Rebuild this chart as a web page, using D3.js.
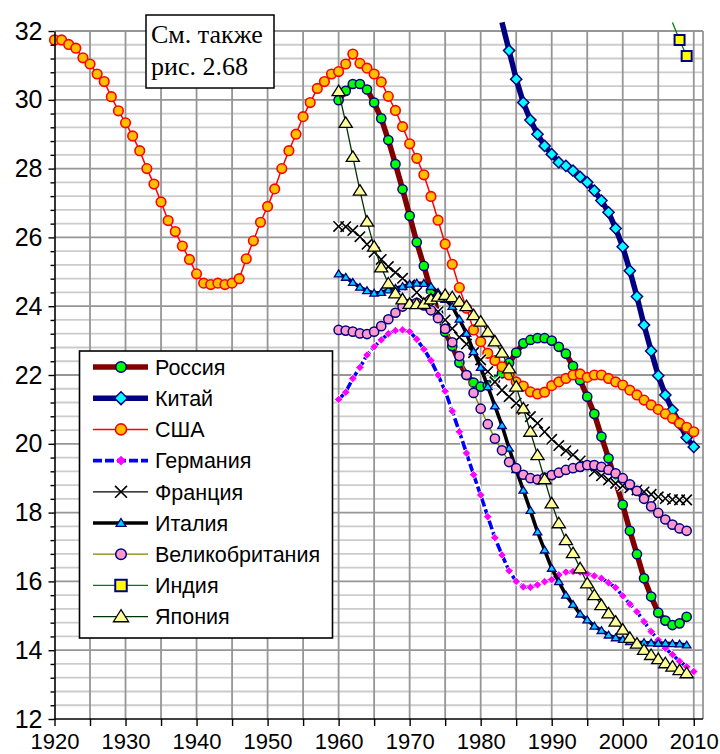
<!DOCTYPE html>
<html>
<head>
<meta charset="utf-8">
<script src="https://cdn.jsdelivr.net/npm/d3@7"></script>
<style>
body{margin:0;background:#fff}
svg{display:block}
</style>
</head>
<body>
<div id="chart"></div>
<script>
// share of population, by country and year
var names = ["Россия","Китай","США","Германия","Франция","Италия","Великобритания","Индия","Япония"]
var startYears = [1960,1983,1920,1960,1960,1960,1960,2007,1960]

var russia = [29.99,30.26,30.46,30.46,30.3,29.92,29.46,28.83,28.13,27.4,
  26.63,25.86,25.17,24.45,23.8,23.25,22.84,22.36,22.0,21.78,
  21.66,21.7,21.85,22.05,22.35,22.65,22.92,23.02,23.07,23.07,
  23.0,22.82,22.62,22.26,21.85,21.37,20.87,20.21,19.58,18.9,
  18.23,17.47,16.79,16.09,15.56,15.09,14.86,14.73,14.78,14.97]
var china = [32.25,31.43,30.6,29.92,29.41,29.0,28.66,28.42,28.18,28.08,27.94,27.76,27.6,27.36,
  27.07,26.73,26.26,25.73,25.03,24.28,23.45,22.7,21.98,21.42,20.98,20.58,20.18,19.91]
var usa = [31.74,31.74,31.61,31.5,31.22,31.04,30.75,30.53,30.09,29.68,
  29.33,28.95,28.52,28.0,27.55,27.03,26.49,26.17,25.75,25.36,
  24.94,24.67,24.63,24.67,24.63,24.67,24.8,25.38,25.9,26.44,
  26.9,27.41,28.0,28.52,29.0,29.51,29.92,30.33,30.53,30.75,
  30.82,31.04,31.33,31.06,30.92,30.75,30.52,30.1,29.69,29.22,
  28.72,28.3,27.82,27.19,26.5,25.81,25.22,24.54,23.94,23.31,
  22.97,22.63,22.42,22.24,22.0,21.8,21.68,21.51,21.45,21.5,
  21.69,21.8,21.9,22.0,22.03,21.93,22.0,22.0,21.9,21.8,
  21.71,21.56,21.42,21.27,21.13,21.0,20.87,20.74,20.6,20.48,
  20.35]
var germany = [21.29,21.5,21.9,22.22,22.58,22.82,23.02,23.2,23.29,23.31,
  23.26,23.04,22.75,22.42,22.0,21.53,20.95,20.35,19.73,19.1,
  18.51,17.88,17.27,16.77,16.31,16.0,15.84,15.83,15.9,15.99,
  16.05,16.19,16.27,16.29,16.27,16.22,16.16,16.09,15.96,15.82,
  15.58,15.34,15.12,14.83,14.54,14.3,14.06,13.87,13.68,13.52,
  13.38]
var france = [26.32,26.31,26.2,26.02,25.8,25.57,25.36,25.15,24.98,24.81,
  24.62,24.4,24.18,24.0,23.84,23.6,23.35,23.1,22.9,22.65,
  22.44,22.1,21.8,21.56,21.37,21.18,21.0,20.79,20.6,20.35,
  20.13,19.95,19.8,19.68,19.5,19.35,19.2,19.07,18.95,18.85,
  18.78,18.72,18.66,18.6,18.53,18.46,18.41,18.38,18.37,18.37]
var italy = [24.94,24.84,24.69,24.55,24.45,24.38,24.4,24.47,24.52,24.57,
  24.64,24.67,24.66,24.57,24.4,24.2,23.99,23.62,23.21,22.68,
  22.22,21.66,21.1,20.53,19.87,19.25,18.65,18.06,17.44,16.91,
  16.38,15.99,15.6,15.33,15.05,14.88,14.7,14.57,14.44,14.36,
  14.31,14.25,14.22,14.22,14.21,14.2,14.2,14.19,14.18,14.15]
var uk = [23.31,23.29,23.26,23.21,23.19,23.26,23.42,23.62,23.81,23.99,
  24.07,24.1,24.02,23.88,23.65,23.34,22.95,22.55,22.0,21.48,
  21.02,20.57,20.15,19.81,19.47,19.29,19.1,19.0,18.96,19.02,
  19.09,19.16,19.24,19.29,19.33,19.38,19.38,19.33,19.24,19.14,
  19.0,18.82,18.63,18.4,18.18,17.99,17.8,17.65,17.54,17.47]
var india = [32.25,31.74,31.27]
var japan = [30.25,29.33,28.34,27.36,26.46,25.73,25.13,24.66,24.37,24.2,
  24.07,24.06,24.07,24.2,24.28,24.33,24.26,24.13,24.0,23.74,
  23.55,23.25,22.98,22.65,22.19,21.66,21.03,20.35,19.67,18.97,
  18.27,17.69,17.2,16.82,16.38,15.94,15.6,15.31,15.07,14.83,
  14.6,14.36,14.19,14.01,13.86,13.74,13.62,13.52,13.42,13.33]

var xTicks = [1920,1930,1940,1950,1960,1970,1980,1990,2000,2010]
var yTicks = [12,14,16,18,20,22,24,26,28,30,32]

var svg = d3.select("#chart").append("svg").attr("width",720).attr("height",754)
  .style("font-family","'Liberation Sans', Arial, sans-serif")

var x = d3.scaleLinear().domain([1920,2011.3]).range([54.5,703])
var y = d3.scaleLinear().domain([12,32]).range([719,31])

// grid
var minor = d3.range(0,51).map(function(i){return 12+i*0.4}).filter(function(v,i){return i%5!=0})
svg.append("g").selectAll("line").data(minor).enter().append("line")
  .attr("x1",x(1920)).attr("x2",703).attr("y1",function(d){return y(d)}).attr("y2",function(d){return y(d)})
  .attr("stroke","#cccccc").attr("stroke-width",1.8)
svg.append("g").selectAll("line").data(d3.range(1925,2011,5)).enter().append("line")
  .attr("x1",function(d){return x(d)}).attr("x2",function(d){return x(d)}).attr("y1",y(32)).attr("y2",y(12))
  .attr("stroke","#969696").attr("stroke-width",1.8)
svg.append("g").selectAll("line").data(yTicks.slice(1)).enter().append("line")
  .attr("x1",x(1920)).attr("x2",703).attr("y1",function(d){return y(d)}).attr("y2",function(d){return y(d)})
  .attr("stroke","#969696").attr("stroke-width",1.8)
svg.append("line").attr("x1",703).attr("x2",703).attr("y1",y(32)).attr("y2",y(12))
  .attr("stroke","#969696").attr("stroke-width",1.8)

function markerPath(type,s){
  if(type=="circle") return "M"+(-s)+",0A"+s+","+s+" 0 1,0 "+s+",0A"+s+","+s+" 0 1,0 "+(-s)+",0Z"
  if(type=="diamond") return "M0,"+(-s)+"L"+s+",0L0,"+s+"L"+(-s)+",0Z"
  if(type=="square") return "M"+(-s)+","+(-s)+"H"+s+"V"+s+"H"+(-s)+"Z"
  if(type=="triangle") return "M0,"+(-s)+"L"+(s*1.1)+","+(s*0.75)+"L"+(-s*1.1)+","+(s*0.75)+"Z"
  if(type=="x") return "M"+(-s)+","+(-s)+"L"+s+","+s+"M"+s+","+(-s)+"L"+(-s)+","+s
}

var series = [
  {values:russia, line:"#800000", lw:5.5, marker:"circle", ms:4.6, fill:"#00ff00", stroke:"#000080", sw:1.5},
  {values:china, line:"#000080", lw:5.5, marker:"diamond", ms:5.6, fill:"#00ffff", stroke:"#000080", sw:1.5},
  {values:usa, line:"#ff0000", lw:1.5, marker:"circle", ms:4.8, fill:"#ffc000", stroke:"#ff0000", sw:1.6},
  {values:germany, line:"#0000ff", lw:3.6, dash:"9,3", halo:true, marker:"diamond", ms:4.2, fill:"#ff00ff", stroke:"#fff", sw:0.8},
  {values:france, line:"#000000", lw:1.3, marker:"x", ms:5.2, fill:"none", stroke:"#000", sw:1.6, xhalo:true},
  {values:italy, line:"#000000", lw:3.6, marker:"triangle", ms:3.9, fill:"#00ccff", stroke:"#000080", sw:1.3},
  {values:uk, line:"#808000", lw:1.3, marker:"circle", ms:4.6, fill:"#ff99cc", stroke:"#000080", sw:1.5},
  {values:india, line:"#008000", lw:1.3, marker:"square", ms:5, fill:"#ffff00", stroke:"#000080", sw:2},
  {values:japan, line:"#003300", lw:1.3, marker:"triangle", ms:6, fill:"#ffff99", stroke:"#000000", sw:1.3}
]

series.forEach(function(s,k){
  var start = startYears[k]
  var pts = s.values.map(function(v,i){return {year:start+i, v:v}})
  var line = d3.line().x(function(d){return x(d.year)}).y(function(d){return y(d.v)})
  var g = svg.append("g")
  if(s.halo){
    g.append("path").attr("d",line(pts)).attr("fill","none").attr("stroke","#fff").attr("stroke-width",s.lw+2.5)
  }
  g.append("path").attr("d",line(pts)).attr("fill","none").attr("stroke",s.line)
    .attr("stroke-width",s.lw).attr("stroke-dasharray",s.dash||null).attr("stroke-linejoin","round")
  var shown = pts.filter(function(d){return d.v<=32})
  if(s.xhalo){
    g.selectAll(".h").data(shown).enter().append("path").attr("class","h")
      .attr("d",markerPath(s.marker,s.ms)).attr("transform",function(d){return "translate("+x(d.year)+","+y(d.v)+")"})
      .attr("fill","none").attr("stroke","#fff").attr("stroke-width",3.8)
  }
  g.selectAll(".m").data(shown).enter().append("path").attr("class","m")
    .attr("d",markerPath(s.marker,s.ms)).attr("transform",function(d){return "translate("+x(d.year)+","+y(d.v)+")"})
    .attr("fill",s.fill).attr("stroke",s.stroke).attr("stroke-width",s.sw)
})

// axes
var yAxis = svg.append("g").attr("transform","translate("+x(1920)+",0)")
  .call(d3.axisLeft(y).tickValues(yTicks).tickSize(6).tickSizeOuter(0).tickPadding(6))
svg.append("g").attr("transform","translate("+x(1920)+",0)")
  .call(d3.axisLeft(y).tickValues(minor).tickSize(4).tickSizeOuter(0).tickFormat(""))
  .call(function(g){g.select(".domain").remove()})
var xAxis = svg.append("g").attr("transform","translate(0,"+y(12)+")")
  .call(d3.axisBottom(x).tickValues(d3.range(1920,2011,5)).tickSize(7).tickSizeOuter(0).tickPadding(7)
    .tickFormat(function(d){return d%10==0 ? d : ""}))
xAxis.select(".domain").attr("d","M"+x(1920)+",0H703")
svg.selectAll(".domain").attr("stroke","#000").attr("stroke-width",1.6)
svg.selectAll(".tick line").attr("stroke","#000").attr("stroke-width",1.4)
yAxis.selectAll("text").attr("font-size",25).attr("font-family","'Liberation Sans', Arial").attr("fill","#000")
xAxis.selectAll("text").attr("font-size",22).attr("font-family","'Liberation Sans', Arial").attr("fill","#000")

// note box
svg.append("rect").attr("x",146).attr("y",15).attr("width",128).attr("height",73)
  .attr("fill","#fff").attr("stroke","#000").attr("stroke-width",1.5)
var note = svg.append("text").attr("font-family","'Liberation Serif', 'Times New Roman', serif").attr("font-size",26)
note.append("tspan").attr("x",151).attr("y",43).text("См. также")
note.append("tspan").attr("x",151).attr("y",75).text("рис. 2.68")

// legend
var lg = svg.append("g")
lg.append("rect").attr("x",79.5).attr("y",351).attr("width",253).attr("height",287)
  .attr("fill","#fff").attr("stroke","#000").attr("stroke-width",1.6)
series.forEach(function(s,k){
  var ly = 367 + k*31.2
  lg.append("line").attr("x1",93).attr("x2",148).attr("y1",ly).attr("y2",ly)
    .attr("stroke",s.line).attr("stroke-width",s.lw).attr("stroke-dasharray",s.dash||null)
  lg.append("path").attr("d",markerPath(s.marker,s.ms*1.15)).attr("transform","translate(121,"+ly+")")
    .attr("fill",s.fill).attr("stroke",s.stroke=="#fff"?"none":s.stroke).attr("stroke-width",s.sw)
  lg.append("text").attr("x",155).attr("y",ly).attr("dy","0.36em").attr("font-size",21.5).text(names[k])
})
</script>
</body>
</html>
